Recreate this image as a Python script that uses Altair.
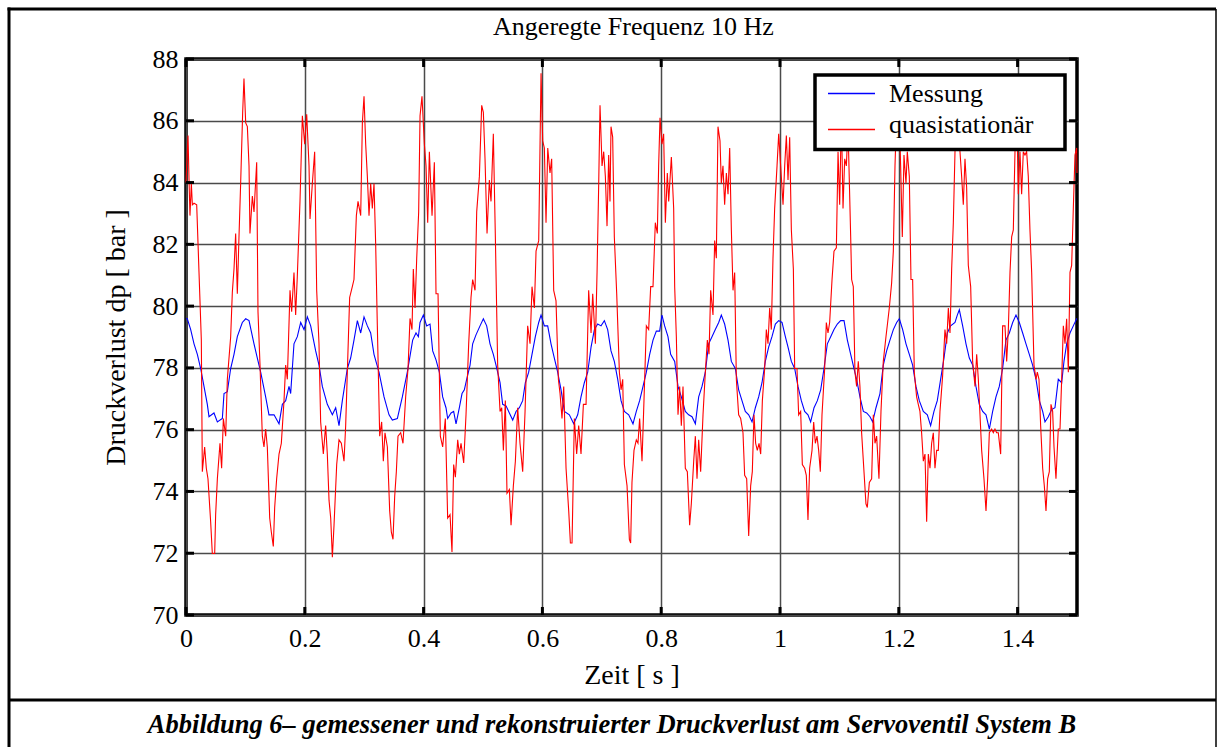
import altair as alt
import pandas as pd

# ---------------- Daten ----------------
zeit_messung_ms = [
    0, 2.2, 7.9, 13.5, 19.1, 24.7, 30.3, 35.9, 38.7, 47.1, 52.8, 61.2, 64.0, 69.6, 75.2, 80.8, 86.4, 94.8,
    100.5, 106.1, 114.5, 120.1, 125.7, 134.1, 139.7, 148.2, 156.6, 162.2, 167.8, 173.4, 176.2, 181.8, 187.4, 193.1,
    198.7, 204.3, 209.9, 218.3, 223.9, 229.5, 237.9, 246.4, 252.0, 257.6, 263.2, 271.6, 277.2, 282.8, 288.5, 294.1,
    299.7, 305.3, 310.9, 316.5, 324.9, 333.4, 341.8, 347.4, 355.8, 364.2, 372.6, 381.6, 387.2, 391.2, 394.0, 399.6,
    405.2, 410.8, 415.3, 420.9, 426.5, 432.1, 437.7, 440.5, 446.2, 450.6, 454.6, 460.2, 464.7, 468.6, 472.5, 478.2,
    482.6, 488.2, 495.0, 500.6, 506.2, 511.8, 517.4, 521.9, 528.7, 533.1, 538.8, 544.4, 550.0, 555.6, 561.2, 566.8,
    571.3, 576.9, 582.5, 588.1, 593.8, 597.7, 603.3, 608.9, 614.5, 620.1, 625.7, 631.4, 637.0, 645.4, 652.7, 659.4,
    665.0, 670.6, 676.3, 681.9, 687.5, 693.1, 698.7, 704.3, 709.9, 715.5, 721.1, 726.8, 732.4, 738.0, 745.3, 752.5,
    758.1, 763.7, 769.4, 775.0, 780.6, 786.2, 791.8, 797.4, 801.3, 805.8, 811.4, 815.9, 822.7, 828.3, 833.9, 840.6,
    846.2, 851.9, 857.5, 863.1, 868.7, 874.3, 879.9, 885.5, 891.1, 896.8, 901.2, 906.8, 912.5, 918.1, 924.8, 930.4,
    936.0, 941.6, 947.3, 952.9, 958.5, 964.1, 969.7, 975.3, 980.9, 986.5, 992.2, 997.8, 1003.4, 1009.0, 1013.5, 1019.1,
    1024.7, 1030.3, 1035.9, 1041.5, 1047.1, 1051.6, 1057.3, 1062.9, 1068.5, 1074.1, 1079.7, 1085.3, 1090.9, 1096.5,
    1102.1, 1107.8, 1113.4, 1119.0, 1124.6, 1129.0, 1134.6, 1140.3, 1145.9, 1151.5, 1156.0, 1161.6, 1168.3, 1173.9,
    1179.5, 1185.1, 1190.8, 1196.4, 1200.9, 1206.5, 1212.1, 1217.7, 1223.3, 1228.9, 1234.5, 1241.3, 1248.0, 1253.6,
    1259.2, 1264.8, 1270.4, 1276.1, 1281.7, 1287.3, 1294.6, 1298.5, 1301.9, 1307.5, 1313.1, 1318.7, 1324.3, 1329.9,
    1335.5, 1341.2, 1346.8, 1352.4, 1358.0, 1363.6, 1369.2, 1374.8, 1380.4, 1386.1, 1391.7, 1397.3, 1402.9, 1408.5,
    1414.1, 1419.7, 1425.3, 1431.0, 1436.6, 1442.2, 1446.1, 1451.7, 1457.3, 1462.9, 1468.5, 1474.2, 1478.1, 1482.6,
    1488.2, 1493.8, 1499.4, 1500.0,
]
druck_messung = [
    79.60, 79.59, 79.24, 78.78, 78.44, 77.98, 77.40, 76.82, 76.42, 76.54, 76.25, 76.36, 77.17, 77.23, 77.98, 78.44, 79.01, 79.47,
    79.59, 79.53, 78.78, 78.32, 77.86, 77.06, 76.48, 76.48, 76.19, 76.82, 76.94, 77.40, 77.17, 78.78, 79.01, 79.47,
    79.24, 79.65, 79.36, 78.55, 78.09, 77.40, 76.82, 76.48, 76.71, 76.13, 76.94, 77.98, 78.32, 78.90, 79.53, 79.13,
    79.65, 79.36, 79.13, 78.44, 77.86, 77.06, 76.48, 76.31, 76.36, 77.06, 77.86, 78.90, 79.13, 79.01, 79.47, 79.71,
    79.36, 79.42, 78.55, 78.26, 77.86, 77.06, 76.71, 76.36, 76.54, 76.59, 76.19, 76.71, 77.17, 77.29, 77.63, 78.09,
    78.78, 79.07, 79.36, 79.59, 79.36, 78.78, 78.44, 78.09, 77.52, 76.82, 76.77, 76.54, 76.31, 76.59, 76.71, 76.94,
    77.52, 77.86, 78.44, 79.01, 79.47, 79.71, 79.36, 79.36, 78.78, 78.32, 77.86, 77.29, 76.59, 76.48, 76.19, 76.48,
    77.06, 77.52, 77.86, 78.67, 79.24, 79.42, 79.36, 79.53, 79.24, 78.55, 78.21, 77.63, 76.94, 76.59, 76.48, 76.19,
    76.59, 76.94, 77.40, 77.86, 78.44, 78.90, 79.19, 79.19, 79.71, 79.36, 79.01, 78.44, 78.21, 77.40, 77.06, 76.59,
    76.48, 76.42, 76.19, 77.06, 77.40, 77.86, 78.78, 79.01, 79.24, 79.47, 79.71, 79.42, 78.90, 78.21, 77.98, 77.29,
    76.94, 76.59, 76.48, 76.25, 76.71, 77.06, 77.52, 78.21, 78.67, 79.01, 79.42, 79.53, 79.47, 79.01, 78.67, 78.21,
    77.98, 77.40, 76.94, 76.59, 76.48, 76.25, 76.71, 76.94, 77.29, 77.98, 78.78, 79.01, 79.24, 79.42,
    79.53, 79.53, 78.90, 78.44, 77.98, 77.63, 77.06, 76.59, 76.54, 76.42, 76.25, 76.71, 77.17, 78.09,
    78.55, 78.90, 79.24, 79.47, 79.59, 79.24, 78.78, 78.44, 78.09, 77.40, 76.94, 76.59, 76.48, 76.13,
    76.59, 76.94, 77.63, 78.32, 79.13, 79.36, 79.47, 79.71, 79.88, 79.36, 78.78, 78.32, 78.09, 77.40,
    76.82, 76.59, 76.48, 76.02, 76.59, 77.06, 77.40, 77.98, 78.90, 79.13, 79.47, 79.71, 79.47, 79.13,
    78.78, 78.44, 78.09, 77.63, 76.94, 76.59, 76.25, 76.42, 76.65, 76.71, 77.63, 77.52, 78.21, 78.78,
    79.13, 79.36, 79.59, 79.60,
]

zeit_quasi_ms = [
    0, 1.1, 3.4, 5.1, 6.7, 9.0, 10.7, 13.5, 18.0, 21.9, 25.8, 27.5, 31.4, 34.2, 37.0, 41.5, 44.3, 48.3, 49.9, 52.8,
    57.2, 60.0, 62.9, 66.8, 69.6, 75.2, 78.0, 80.8, 83.6, 86.4, 89.2, 92.0, 95.4, 97.6, 100.5, 103.3, 106.1, 107.7,
    111.7, 114.5, 119.0, 121.2, 124.6, 128.5, 131.3, 134.1, 136.9, 140.9, 143.7, 147.0, 149.3, 152.6, 156.6, 160.5,
    165.0, 167.8, 170.6, 175.1, 177.9, 181.8, 184.6, 187.4, 191.9, 195.9, 199.8, 203.2, 207.1, 208.8, 212.7, 216.6,
    220.0, 223.9, 226.7, 231.2, 235.1, 237.9, 240.8, 243.6, 246.4, 249.2, 253.7, 257.6, 261.5, 266.0, 268.8, 271.6,
    275.5, 280.0, 282.8, 286.8, 289.6, 294.1, 296.9, 299.7, 302.5, 305.3, 308.1, 310.9, 313.7, 316.5, 319.3, 322.1,
    326.1, 329.4, 332.2, 335.0, 339.0, 342.9, 345.7, 348.5, 351.3, 354.1, 356.9, 361.4, 365.3, 369.8, 373.8, 377.1,
    380.5, 382.7, 385.6, 388.4, 391.7, 394.0, 397.3, 401.3, 404.1, 406.9, 409.7, 414.2, 418.1, 420.9, 424.3, 428.2,
    432.1, 436.6, 440.5, 444.5, 447.8, 450.6, 453.5, 457.4, 460.2, 463.0, 467.5, 471.4, 475.9, 479.8, 482.6, 486.6,
    489.4, 493.9, 497.8, 500.6, 503.4, 506.8, 510.7, 513.5, 517.4, 520.8, 524.7, 528.7, 531.5, 534.3, 537.6, 540.4,
    544.4, 547.2, 551.1, 554.5, 558.4, 562.3, 566.8, 570.8, 575.2, 579.2, 582.5, 586.5, 589.3, 593.8, 597.7, 600.5,
    603.3, 606.1, 609.0, 612.8, 615.6, 619.0, 622.9, 626.9, 629.7, 633.0, 635.9, 639.8, 644.3, 647.1, 649.9, 653.8,
    657.7, 661.1, 665.0, 669.0, 673.5, 677.9, 681.9, 684.7, 689.2, 692.0, 694.8, 697.0, 700.4, 703.2, 706.0, 708.8,
    711.6, 713.8, 715.5, 718.3, 721.1, 725.1, 729.6, 732.4, 735.2, 738.0, 742.5, 746.4, 748.6, 750.8, 754.2, 758.1,
    760.9, 763.7, 767.7, 771.0, 775.0, 778.9, 782.3, 786.2, 790.1, 793.5, 795.7, 798.0, 801.3, 804.1, 807.0, 810.3,
    812.6, 817.1, 821.0, 822.7, 825.5, 828.3, 831.1, 833.9, 836.7, 840.6, 844.0, 847.9, 850.7, 854.7, 857.5, 860.3,
    863.1, 866.4, 870.4, 874.3, 877.7, 880.5, 883.3, 887.2, 890.0, 892.8, 895.6, 899.0, 901.2, 904.0, 906.8, 909.7,
    912.5, 915.3, 918.1, 920.9, 923.7, 926.5, 930.4, 933.8, 937.7, 940.5, 943.9, 947.3, 950.6, 953.4, 956.2, 959.0,
    961.8, 964.7, 967.5, 970.3, 974.2, 977.0, 979.8, 982.6, 985.4, 988.2, 991.0, 995.0, 997.8, 1001.1, 1005.1, 1007.9,
    1010.7, 1013.5, 1016.3, 1019.1, 1022.5, 1024.7, 1028.6, 1031.4, 1034.8, 1037.6, 1041.5, 1044.3, 1047.1, 1049.9,
    1053.9, 1056.7, 1059.5, 1062.3, 1065.1, 1067.9, 1070.7, 1075.2, 1078.0, 1080.8, 1083.6, 1087.6, 1090.9, 1094.9,
    1097.7, 1100.5, 1103.3, 1106.1, 1108.9, 1111.7, 1114.5, 1119.0, 1120.6, 1123.4, 1126.2, 1129.0, 1131.8, 1134.6,
    1137.4, 1141.4, 1144.7, 1147.0, 1150.4, 1154.3, 1157.1, 1159.9, 1162.7, 1166.6, 1170.0, 1173.9, 1178.4, 1181.2,
    1184.0, 1187.9, 1190.8, 1193.6, 1196.4, 1200.0, 1203.1, 1205.9, 1208.7, 1212.1, 1214.3, 1217.7, 1220.5, 1223.3,
    1226.1, 1230.0, 1232.8, 1235.6, 1238.4, 1241.3, 1244.1, 1246.9, 1249.7, 1252.5, 1255.3, 1258.1, 1260.9, 1263.7,
    1266.5, 1269.3, 1273.8, 1277.7, 1280.6, 1283.4, 1286.2, 1289.0, 1291.8, 1294.6, 1297.4, 1300.2, 1303.0, 1305.8,
    1308.6, 1311.4, 1314.2, 1317.0, 1321.0, 1324.3, 1328.3, 1331.1, 1333.9, 1336.7, 1339.5, 1343.4, 1346.8, 1349.6,
    1352.4, 1356.3, 1359.1, 1361.9, 1364.7, 1367.5, 1371.5, 1374.8, 1378.8, 1381.6, 1384.4, 1387.2, 1390.0, 1392.8,
    1395.6, 1398.4, 1401.2, 1404.0, 1406.8, 1409.6, 1412.4, 1415.2, 1418.0, 1420.8, 1423.7, 1427.6, 1431.0, 1433.2,
    1436.0, 1438.8, 1442.2, 1445.0, 1447.8, 1450.6, 1453.4, 1456.2, 1459.0, 1461.3, 1464.6, 1468.5, 1471.4, 1474.2,
    1477.0, 1479.8, 1482.6, 1485.4, 1488.2, 1491.0, 1493.8, 1496.6, 1499.4, 1500.0,
]
druck_quasi = [
    84.00, 84.54, 85.52, 84.08, 82.93, 83.97, 83.28, 83.33, 83.28, 81.09, 78.90, 74.64, 75.44, 74.75, 74.41, 73.02, 71.99, 71.99, 73.25, 74.41,
    75.56, 74.75, 76.36, 75.79, 77.63, 79.01, 80.45, 81.20, 82.35, 80.40, 82.24, 83.97, 86.27, 87.37, 85.93, 85.81, 84.54, 82.35,
    83.56, 83.05, 84.66, 79.82, 78.09, 75.79, 75.44, 76.02, 75.44, 73.14, 72.68, 72.22, 73.48, 74.41, 75.21, 75.56,
    76.94, 78.09, 77.63, 80.51, 79.82, 81.09, 79.71, 80.97, 83.39, 86.16, 85.24, 86.21, 84.54, 82.82, 83.97, 85.00,
    80.51, 78.78, 76.25, 75.21, 76.13, 75.21, 73.71, 73.14, 71.87, 72.91, 74.87, 75.67, 75.56, 74.98, 76.13, 77.86,
    80.28, 80.63, 80.86, 82.93, 83.39, 82.93, 85.93, 86.79, 85.24, 84.20, 82.93, 83.97, 83.16, 83.97, 82.01, 79.36,
    75.79, 76.25, 74.98, 75.90, 75.44, 73.37, 72.68, 72.45, 73.83, 74.64, 75.79, 75.90, 75.56, 77.06, 77.98, 79.60,
    79.24, 81.20, 79.94, 81.55, 83.05, 86.16, 86.79, 85.24, 84.54, 82.70, 85.00, 82.93, 84.66, 80.40, 80.40, 75.79,
    75.44, 76.36, 73.14, 73.25, 72.04, 74.87, 74.46, 75.67, 75.21, 75.56, 74.92, 76.48, 78.78, 80.28, 80.86, 80.51,
    83.05, 84.20, 86.50, 86.27, 84.77, 82.35, 84.08, 83.39, 85.58, 82.24, 78.09, 76.59, 76.71, 75.33, 76.94, 73.94,
    74.06, 72.91, 74.18, 74.98, 76.71, 75.56, 74.64, 76.59, 79.36, 78.78, 80.63, 79.94, 81.78, 82.12, 87.54, 85.35,
    85.12, 82.70, 85.12, 84.31, 84.77, 80.51, 80.17, 77.63, 77.17, 76.36, 77.40, 74.75, 73.37, 72.33, 72.33, 76.36,
    75.21, 76.13, 75.21, 76.82, 76.82, 80.51, 79.13, 80.40, 78.78, 81.09, 83.97, 86.50, 84.54, 85.00, 84.20, 82.59,
    84.89, 83.39, 85.81, 85.47, 82.24, 80.40, 77.86, 77.29, 77.63, 74.87, 74.18, 72.45, 72.33, 74.29, 75.33, 75.67,
    75.56, 76.36, 74.98, 76.94, 79.36, 79.24, 80.63, 80.63, 82.70, 82.35, 84.54, 86.10, 85.24, 85.58, 82.70, 84.31,
    83.39, 84.83, 83.16, 80.63, 79.01, 76.48, 77.40, 76.13, 77.40, 74.75, 74.64, 72.91, 73.60, 74.98, 75.79, 74.41,
    75.67, 74.64, 76.48, 77.86, 78.90, 78.44, 80.51, 79.71, 82.12, 81.55, 85.81, 85.35, 83.97, 84.54, 83.28, 84.31,
    83.62, 85.12, 82.47, 80.51, 81.09, 77.63, 76.48, 76.36, 75.90, 74.52, 74.41, 72.56, 74.18, 74.64, 76.48, 75.56,
    75.33, 75.56, 75.21, 76.94, 77.98, 79.24, 78.78, 79.94, 79.24, 81.55, 83.16, 84.54, 85.58, 84.54, 83.28, 84.54,
    85.52, 84.08, 85.47, 82.47, 81.20, 77.98, 77.98, 76.48, 76.59, 74.87, 74.75, 74.52, 73.08, 74.75,
    75.33, 76.25, 75.56, 75.79, 75.33, 74.64, 76.48, 77.98, 79.47, 79.13, 79.47, 80.86, 81.78, 81.89,
    85.00, 83.28, 86.20, 83.16, 84.77, 84.54, 85.80, 82.24, 80.86, 80.63, 77.86, 77.40, 78.21, 77.40,
    75.90, 74.64, 73.60, 73.48, 74.29, 74.41, 76.48, 75.56, 75.79, 74.41, 76.59, 78.21, 79.01, 79.47,
    79.94, 80.74, 81.78, 84.54, 86.27, 86.60, 84.54, 82.24, 84.89, 83.97, 85.00, 84.20, 80.86, 80.86,
    77.86, 77.06, 76.82, 76.59, 75.90, 74.98, 75.21, 73.02, 75.21, 74.75, 75.56, 75.90, 74.75, 75.33,
    75.33, 76.59, 77.75, 79.24, 78.78, 79.94, 79.13, 81.20, 82.70, 85.00, 86.27, 86.73, 85.00, 84.20,
    83.28, 84.77, 83.85, 81.32, 80.63, 78.21, 77.40, 78.44, 77.63, 76.48, 75.33, 74.41, 73.37, 74.41,
    75.90, 76.02, 75.90, 76.02, 75.90, 75.90, 75.21, 79.36, 79.36, 78.21, 79.24, 81.09, 82.24, 82.47,
    85.00, 86.40, 83.62, 85.00, 83.62, 85.00, 84.89, 85.00, 84.20, 82.47, 81.09, 78.09, 77.63, 77.86,
    77.63, 76.13, 74.75, 74.18, 73.37, 74.41, 74.64, 76.82, 76.59, 75.44, 74.41, 76.02, 76.02, 77.63,
    79.36, 78.78, 79.59, 77.86, 81.09, 81.32, 83.16, 84.89, 85.12, 84.31,
]

serien = ["Messung", "quasistationär"]
farben = ["#0000ff", "#ff0000"]
x_ticks = [0, 0.2, 0.4, 0.6, 0.8, 1.0, 1.2, 1.4]
y_ticks = [70, 72, 74, 76, 78, 80, 82, 84, 86, 88]

titel = "Angeregte Frequenz 10 Hz"
x_titel = "Zeit [ s ]"
y_titel = "Druckverlust dp [ bar ]"
unterschrift = "Abbildung 6–  gemessener und rekonstruierter Druckverlust am Servoventil System B"

# ---------------- Aufbau ----------------
W, H = 891, 556
PL, PT = 186, 59
PR, PB = 1218 - PL - W, 747 - PT - H
FONT = "Liberation Serif"

df = pd.concat([
    pd.DataFrame({"t": [z / 1000 for z in zeit_messung_ms], "v": druck_messung, "serie": serien[0]}),
    pd.DataFrame({"t": [z / 1000 for z in zeit_quasi_ms], "v": druck_quasi, "serie": serien[1]}),
])

xs = alt.Scale(domain=[0, 1.5], nice=False, zero=False)
ys = alt.Scale(domain=[70, 88], nice=False, zero=False)
x_axis = alt.Axis(values=x_ticks, format="~g", title=x_titel, labelPadding=10, labelFlush=False,
                  titleX=W / 2, titleY=60, titleAlign="center", titleBaseline="middle")
y_axis = alt.Axis(values=y_ticks, format="d", title=y_titel, labelPadding=8, labelFlush=False,
                  titleX=-70, titleY=H / 2, titleAngle=270, titleAlign="center", titleBaseline="middle")

linien = alt.Chart(df).mark_line(strokeWidth=1.1).encode(
    x=alt.X("t:Q", scale=xs, axis=x_axis),
    y=alt.Y("v:Q", scale=ys, axis=y_axis),
    color=alt.Color("serie:N", scale=alt.Scale(domain=serien, range=farben), legend=None),
    detail="serie:N",
)

# nach innen gerichtete Hauptstriche an allen vier Seiten
yt = pd.DataFrame({"v": y_ticks})
xt = pd.DataFrame({"t": x_ticks})
TL = 8
tick_layers = [
    alt.Chart(yt).mark_rule(stroke="black", strokeWidth=3).encode(
        y=alt.Y("v:Q", scale=ys, axis=y_axis), x=alt.value(0), x2=alt.value(TL)),
    alt.Chart(yt).mark_rule(stroke="black", strokeWidth=3).encode(
        y=alt.Y("v:Q", scale=ys, axis=y_axis), x=alt.value(W - TL), x2=alt.value(W)),
    alt.Chart(xt).mark_rule(stroke="black", strokeWidth=3).encode(
        x=alt.X("t:Q", scale=xs, axis=x_axis), y=alt.value(H - TL), y2=alt.value(H)),
    alt.Chart(xt).mark_rule(stroke="black", strokeWidth=3).encode(
        x=alt.X("t:Q", scale=xs, axis=x_axis), y=alt.value(0), y2=alt.value(TL)),
]

one = alt.Data(values=[{"k": 1}])

# Titel über der Zeichenfläche
titel_layer = alt.Chart(one).mark_text(
    font=FONT, fontSize=26, align="center", baseline="alphabetic", color="black").encode(
    x=alt.value(W / 2 + 2), y=alt.value(35 - PT), text=alt.value(titel))

# Legende
leg_layers = [
    alt.Chart(one).mark_rect(fill="white", stroke="black", strokeWidth=3.5).encode(
        x=alt.value(629), x2=alt.value(879), y=alt.value(16), y2=alt.value(90.5)),
]
leg_line_y = [34.5, 70.5]
leg_text_y = [42.5, 74]
for i, (name, col) in enumerate(zip(serien, farben)):
    leg_layers.append(alt.Chart(one).mark_rule(strokeWidth=1.3).encode(
        x=alt.value(642), x2=alt.value(689), y=alt.value(leg_line_y[i]),
        color=alt.value(col)))
    leg_layers.append(alt.Chart(one).mark_text(
        font=FONT, fontSize=26, align="left", baseline="alphabetic", color="black").encode(
        x=alt.value(703), y=alt.value(leg_text_y[i]), text=alt.value(name)))

# Rahmen der Abbildung und Bildunterschrift
L, T, R, B = 9 - PL, 9 - PT, 1216 - PL, 747 - PT
SEP = 700 - PT
frame_layers = [
    alt.Chart(one).mark_rule(stroke="black", strokeWidth=3).encode(
        x=alt.value(L), y=alt.value(T - 1.5), y2=alt.value(B)),
    alt.Chart(one).mark_rule(stroke="black", strokeWidth=3).encode(
        x=alt.value(L - 1.5), x2=alt.value(R), y=alt.value(T)),
    alt.Chart(one).mark_rule(stroke="black", strokeWidth=1.5).encode(
        x=alt.value(R), y=alt.value(T), y2=alt.value(B)),
    alt.Chart(one).mark_rule(stroke="black", strokeWidth=3).encode(
        x=alt.value(L), x2=alt.value(R), y=alt.value(SEP)),
    alt.Chart(one).mark_text(font=FONT, fontSize=26.5, fontStyle="italic", fontWeight="bold",
                             align="center", baseline="middle", color="black").encode(
        x=alt.value(612 - PL), y=alt.value(725 - PT), text=alt.value(unterschrift)),
]

chart = alt.layer(linien, *tick_layers, titel_layer, *leg_layers, *frame_layers).properties(
    width=W, height=H,
    padding={"left": PL, "top": PT, "right": PR, "bottom": PB},
    autosize=alt.AutoSizeParams(type="none"),
    background="white",
).configure_view(stroke="black", strokeWidth=3.5).configure_axis(
    grid=True, gridColor="#4a4a4a", gridWidth=1.5, domain=False, ticks=False,
    labelFont=FONT, labelFontSize=26, labelColor="black",
    titleFont=FONT, titleFontSize=28, titleFontWeight="normal", titleColor="black",
)

chart.save("out.html", embed_options={"renderer": "svg", "actions": False})
